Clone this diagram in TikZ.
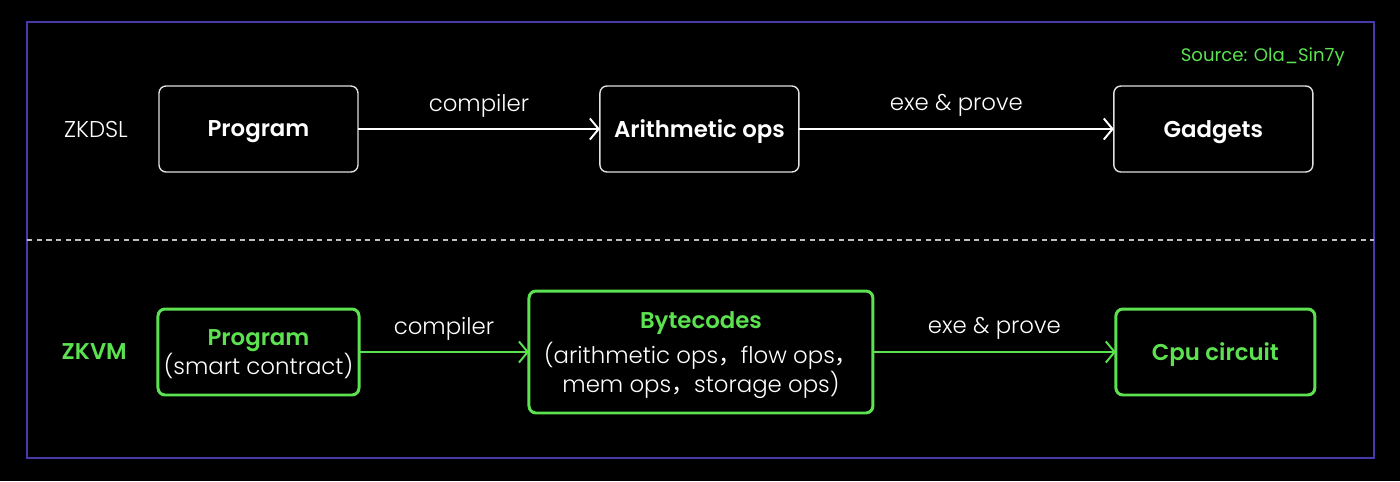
\documentclass[tikz,border=0pt]{standalone}
\usepackage{fontspec}
\setmainfont{Poppins}[BoldFont={Poppins SemiBold}]
\newfontfamily\poplight{Poppins Light}
\newfontfamily\cjk{Noto Sans CJK SC}
\usetikzlibrary{arrows.meta, positioning}
\definecolor{zkgreen}{RGB}{92,226,80}
\definecolor{framepurple}{RGB}{72,58,172}
\newcommand{\fcomma}{{\cjk\mdseries ，}}
\newcommand{\thinline}[1]{\textcolor{white}{\poplight\mdseries #1}}

\begin{document}
\begin{tikzpicture}[
    x=0.02cm, y=-0.02cm,
    every node/.style={font=\fontsize{13pt}{16pt}\selectfont},
    whitebox/.style={
        rectangle, draw=white!88!black, line width=0.8pt, rounded corners=4pt,
        minimum width=3.98cm, minimum height=1.72cm, outer sep=0pt, text depth=0pt,
        align=center, text=white, font=\fontsize{13pt}{16pt}\selectfont\bfseries
    },
    greenbox/.style={
        whitebox, draw=zkgreen, line width=1.7pt, text=zkgreen
    },
    arr/.style={-{Straight Barb[length=5pt, width=12pt]}, line width=1.1pt, white},
    garr/.style={arr, zkgreen},
    lbl/.style={font=\fontsize{13pt}{16pt}\selectfont\poplight, text=white, yshift=0.47cm},
    sidelbl/.style={font=\fontsize{13pt}{16pt}\selectfont\poplight, text=white}
]
% Background and frame
\useasboundingbox (0,0) rectangle (1400,481);
\fill[black] (0,0) rectangle (1400,481);
\draw[framepurple, line width=0.6pt] (27,22) rectangle (1374,458);
\draw[white!75!black, line width=0.6pt, dash pattern=on 3pt off 2.5pt] (27,240) -- (1374,240);

% ZKDSL row
\node[whitebox] (dslprog) at (258.5,129) {Program};
\node[whitebox, right=4.84cm of dslprog] (arith) {Arithmetic ops};
\node[whitebox, right=6.3cm of arith] (gadgets) {Gadgets};
\node[sidelbl, left=0.5cm of dslprog] (dsl) {ZKDSL};

% ZKVM row
\node[greenbox] (vmprog) at (258.5,352)
    {Program\\\thinline{(smart contract)}};
\node[greenbox, minimum width=6.88cm, minimum height=2.44cm, right=3.4cm of vmprog] (bytecodes)
    {Bytecodes\\[4pt]\thinline{(arithmetic ops\fcomma flow ops\fcomma}\\\thinline{mem ops\fcomma storage ops)}};
\node[greenbox, right=4.86cm of bytecodes] (cpu) {Cpu circuit};
\node[sidelbl, font=\fontsize{13pt}{16pt}\selectfont\bfseries, text=zkgreen, left=0.5cm of vmprog] (vm) {ZKVM};

% Source
\node[anchor=east, text=zkgreen, font=\fontsize{10.3pt}{12pt}\selectfont] (source) at (1351,57) {Source: Ola\_Sin7y};

% Arrows
\draw[arr] (dslprog) -- node[lbl] {compiler} (arith);
\draw[arr] (arith) -- node[lbl] {exe \& prove} (gadgets);
\draw[garr] (vmprog) -- node[lbl] {compiler} (bytecodes);
\draw[garr] (bytecodes) -- node[lbl] {exe \& prove} (cpu);

\end{tikzpicture}
\end{document}
